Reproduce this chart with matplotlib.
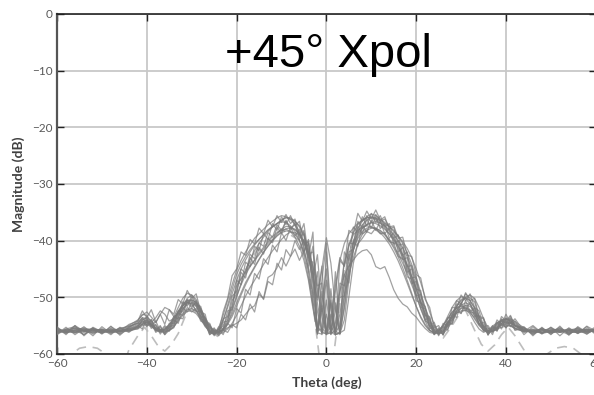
import numpy as np
import matplotlib
matplotlib.use('Agg')
import matplotlib.pyplot as plt

# Angle grid shared by the measured cuts (deg)
theta = [-60, -58, -56, -54, -52, -50, -48, -46, -44, -42,
         -41, -40, -39, -38, -37, -36, -35, -34, -33, -32, -31, -30, -29, -28, -27, -26, -25, -24, -23, -22, -21,
         -20, -19, -18, -17, -16, -15, -14, -13, -12, -11, -10, -9, -8, -7, -6, -5, -4, -3, -2, -1, 0,
         1, 2, 3, 4, 5, 6, 7, 8, 9, 10, 11, 12, 13, 14, 15, 16, 17, 18, 19, 20, 21,
         22, 23, 24, 25, 26, 27, 28, 29, 30, 31, 32, 33, 34, 35, 36, 37, 38, 39, 40, 41, 42,
         44, 46, 48, 50, 52, 54, 56, 58, 60]

cut_1 = [-56.0, -55.8, -55.5, -55.9, -56.2, -56.0, -55.8, -56.1, -55.6, -55.0,
         -54.4, -54.1, -54.6, -55.3, -55.8, -55.9, -55.4, -54.5, -53.2, -52.0, -51.2, -51.0, -51.6, -52.8, -54.3, -55.5, -56.0, -55.8, -55.0, -53.5, -51.5,
         -48.0, -46.8, -45.5, -44.5, -43.5, -42.5, -41.5, -40.5, -39.8, -38.8, -38.0, -37.5, -37.6, -38.0, -38.8, -40.5, -43.0, -47.0, -52.5, -56.2, -50.5,
         -56.3, -56.0, -53.0, -48.0, -43.5, -40.5, -38.8, -37.8, -37.2, -36.9, -37.0, -37.4, -38.0, -38.8, -39.8, -41.0, -42.5, -44.3, -46.3, -48.5, -50.8,
         -52.8, -54.5, -55.6, -56.2, -56.0, -55.2, -54.0, -52.8, -51.9, -51.4, -51.6, -52.6, -54.0, -55.2, -55.9, -55.8, -55.3, -54.9, -54.7, -54.6, -55.0,
         -55.9, -56.2, -56.0, -55.7, -55.9, -56.1, -55.8, -56.0, -55.7]
cut_2 = [-56.4, -55.6, -55.2, -56.0, -55.7, -56.3, -56.0, -55.5, -55.2, -54.6,
         -53.6, -53.8, -54.9, -55.6, -56.1, -55.6, -54.8, -53.5, -51.8, -50.2, -49.3, -49.6, -50.8, -52.5, -54.6, -56.2, -56.6, -55.4, -53.2, -50.5, -47.8,
         -45.2, -43.5, -42.0, -40.8, -39.6, -38.8, -38.0, -37.2, -36.6, -36.0, -35.6, -35.8, -36.3, -37.1, -38.5, -41.2, -45.5, -50.8, -56.4, -52.0, -56.5,
         -55.0, -56.5, -56.4, -51.5, -45.0, -40.2, -37.8, -36.6, -35.8, -35.3, -35.6, -36.2, -36.8, -37.5, -38.2, -39.2, -40.5, -42.2, -44.2, -46.5, -49.2,
         -51.8, -54.0, -55.8, -56.5, -56.0, -54.8, -53.2, -51.6, -50.4, -50.0, -50.6, -52.0, -53.8, -55.4, -56.2, -55.9, -55.0, -54.2, -53.9, -54.2, -54.8,
         -56.2, -55.8, -56.4, -56.0, -55.6, -56.3, -56.0, -55.6, -56.2]
cut_3 = [-55.7, -56.2, -56.0, -55.6, -55.9, -55.7, -56.2, -55.9, -55.8, -55.4,
         -54.8, -54.5, -55.0, -55.6, -56.0, -56.2, -55.9, -55.2, -54.0, -52.9, -52.2, -52.0, -52.4, -53.4, -54.8, -55.9, -56.4, -56.5, -56.2, -55.6, -54.6,
         -53.2, -51.5, -49.8, -48.3, -47.0, -45.6, -44.2, -43.0, -41.8, -40.8, -39.8, -39.0, -38.5, -38.6, -39.0, -40.2, -42.0, -44.5, -48.5, -53.5, -56.5,
         -56.2, -56.6, -56.3, -55.8, -50.0, -44.0, -40.5, -38.9, -38.2, -37.8, -37.9, -38.2, -38.9, -39.8, -41.0, -42.4, -44.0, -45.8, -47.8, -49.8, -52.0,
         -53.8, -55.2, -56.2, -56.4, -55.6, -54.6, -53.4, -52.5, -52.0, -51.9, -52.2, -53.2, -54.5, -55.6, -56.1, -56.0, -55.6, -55.3, -55.1, -55.0, -55.4,
         -56.0, -55.7, -56.3, -55.9, -56.2, -55.8, -56.3, -55.9, -56.1]
cut_4 = [-56.1, -55.9, -56.3, -55.8, -56.0, -55.6, -55.9, -56.2, -55.4, -54.2,
         -53.0, -53.2, -54.5, -53.6, -52.4, -53.0, -54.2, -53.8, -52.6, -51.5, -50.8, -51.2, -52.4, -53.8, -55.2, -56.0, -56.3, -56.0, -55.8, -55.4, -55.0,
         -54.6, -54.0, -53.0, -52.0, -51.5, -49.5, -50.2, -46.5, -46.0, -44.8, -43.0, -44.5, -42.8, -41.5, -43.5, -41.8, -44.8, -49.5, -55.0, -56.3, -56.4,
         -54.0, -48.0, -43.0, -44.5, -41.0, -39.0, -38.2, -37.6, -37.4, -37.6, -38.0, -38.6, -39.5, -40.6, -42.0, -43.6, -45.5, -47.5, -49.6, -51.6, -53.4,
         -54.8, -55.8, -56.3, -55.9, -55.0, -53.8, -52.6, -51.8, -51.5, -51.8, -52.6, -53.8, -55.0, -55.8, -56.0, -55.4, -54.6, -54.0, -53.8, -54.2, -55.0,
         -55.6, -56.1, -55.9, -56.3, -55.8, -55.9, -56.2, -55.6, -55.9]
cut_5 = [-55.9, -56.2, -55.7, -56.0, -56.3, -55.8, -56.0, -55.7, -55.9, -55.3,
         -54.8, -54.4, -54.9, -55.5, -55.9, -55.6, -54.9, -53.9, -52.6, -51.4, -50.6, -50.4, -51.0, -52.2, -53.8, -55.2, -56.0, -56.3, -55.6, -54.0, -52.0,
         -49.8, -47.8, -46.0, -44.6, -43.4, -42.2, -41.2, -40.2, -39.3, -38.6, -38.2, -38.0, -38.4, -39.4, -41.0, -43.5, -47.0, -52.0, -56.0, -55.5, -56.3,
         -56.0, -52.5, -49.0, -46.0, -44.5, -43.4, -42.4, -41.8, -41.6, -42.5, -44.6, -45.0, -44.6, -46.5, -48.7, -50.2, -51.2, -51.7, -52.8, -53.5, -54.6,
         -55.5, -56.2, -56.4, -55.8, -55.0, -53.8, -52.7, -51.9, -51.6, -52.0, -53.0, -54.4, -55.6, -56.2, -55.8, -55.1, -54.5, -54.2, -54.4, -54.9, -55.5,
         -56.0, -55.6, -56.2, -55.8, -56.1, -55.7, -56.0, -56.3, -55.8]
cut_6 = [-55.6, -56.0, -55.8, -55.4, -55.9, -56.2, -55.6, -55.9, -55.7, -55.2,
         -54.0, -53.5, -54.2, -55.0, -55.7, -56.0, -55.7, -54.8, -53.5, -52.2, -51.0, -50.5, -50.9, -52.0, -53.6, -55.0, -55.9, -56.3, -55.9, -54.6, -52.5,
         -50.0, -47.5, -45.2, -43.4, -41.8, -40.5, -39.4, -38.4, -37.6, -37.0, -36.4, -36.0, -36.2, -36.6, -37.4, -38.8, -41.5, -46.0, -50.5, -45.0, -39.5,
         -44.0, -52.0, -56.4, -54.0, -47.0, -41.6, -38.6, -37.2, -36.4, -36.0, -36.1, -36.6, -37.4, -38.4, -39.6, -41.0, -42.6, -44.4, -46.4, -48.6, -51.0,
         -53.2, -55.0, -56.0, -56.3, -55.8, -54.6, -53.0, -51.6, -50.6, -50.2, -50.6, -51.8, -53.4, -55.0, -56.0, -56.1, -55.5, -54.8, -54.4, -54.5, -55.1,
         -55.8, -56.0, -55.6, -56.2, -56.0, -55.7, -56.1, -55.8, -56.2]
cut_7 = [-56.2, -55.7, -56.1, -55.8, -55.5, -56.0, -56.3, -55.8, -55.5, -54.8,
         -53.8, -54.2, -55.1, -55.8, -56.2, -55.8, -55.0, -53.8, -52.4, -51.2, -50.5, -50.6, -51.6, -53.2, -55.0, -56.2, -56.4, -55.6, -54.0, -51.8, -49.4,
         -47.0, -45.0, -43.4, -42.0, -40.8, -39.8, -38.9, -38.1, -37.5, -37.0, -36.7, -36.8, -37.4, -38.4, -40.0, -42.5, -46.5, -51.5, -56.3, -56.5, -53.0,
         -56.4, -54.5, -49.0, -44.0, -40.8, -38.6, -37.2, -36.4, -36.0, -35.8, -36.0, -36.4, -37.0, -37.6, -38.4, -39.2, -40.2, -41.4, -43.0, -45.0, -47.4,
         -50.0, -52.6, -54.8, -56.2, -56.4, -55.6, -54.2, -52.5, -51.0, -50.0, -49.6, -50.2, -51.8, -53.8, -55.4, -56.0, -55.5, -54.6, -53.9, -53.8, -54.3,
         -55.4, -56.2, -55.9, -55.5, -56.1, -55.8, -55.5, -56.0, -55.6]
cut_8 = [-55.8, -56.1, -55.9, -56.2, -55.6, -55.9, -56.1, -56.0, -55.8, -55.6,
         -55.0, -54.8, -55.2, -55.7, -56.0, -56.1, -55.8, -55.2, -54.2, -53.2, -52.5, -52.4, -52.9, -53.9, -55.0, -55.8, -56.2, -56.1, -55.6, -54.5, -53.0,
         -51.0, -49.2, -47.4, -46.0, -44.6, -43.3, -42.0, -40.9, -40.0, -39.2, -38.6, -38.3, -38.4, -38.9, -40.0, -42.0, -40.5, -45.0, -56.2, -49.0, -56.4,
         -50.5, -56.3, -55.0, -49.5, -44.8, -41.6, -39.6, -38.4, -37.8, -37.6, -37.8, -38.3, -39.0, -40.0, -41.3, -42.9, -44.8, -47.0, -49.3, -51.6, -53.6,
         -55.0, -55.9, -56.2, -55.9, -55.3, -54.5, -53.6, -52.8, -52.4, -52.3, -52.7, -53.6, -54.8, -55.7, -56.1, -55.9, -55.4, -55.0, -54.9, -55.1, -55.5,
         -56.1, -55.9, -55.6, -56.0, -56.2, -55.9, -55.6, -56.1, -55.9]
cut_9 = [-56.3, -55.9, -55.4, -55.7, -56.1, -55.8, -56.1, -55.6, -55.0, -54.0,
         -53.2, -52.6, -53.5, -54.5, -53.0, -51.8, -52.2, -53.4, -53.0, -51.6, -50.2, -49.6, -50.4, -52.0, -54.0, -55.6, -56.4, -56.0, -54.2, -51.4, -48.6,
         -46.0, -44.2, -42.8, -41.6, -40.6, -39.8, -39.0, -38.2, -37.6, -37.0, -36.4, -35.9, -36.0, -36.6, -37.6, -39.2, -42.0, -47.5, -56.0, -51.0, -45.0,
         -56.5, -49.0, -43.5, -40.5, -38.8, -37.8, -37.0, -36.4, -36.0, -35.9, -36.3, -36.9, -37.8, -38.8, -40.0, -41.4, -43.0, -44.8, -47.0, -49.5, -52.0,
         -54.2, -55.8, -56.4, -56.0, -55.0, -53.4, -51.8, -50.6, -49.9, -50.2, -51.2, -52.8, -54.6, -55.9, -56.2, -55.6, -54.8, -54.1, -53.8, -54.0, -54.6,
         -55.7, -56.0, -56.3, -55.8, -55.6, -56.0, -56.2, -55.7, -56.0]
cut_10 = [-55.9, -56.0, -56.2, -55.9, -55.7, -56.1, -55.7, -56.0, -56.0, -55.5,
          -54.6, -54.3, -54.8, -55.4, -55.8, -55.7, -55.2, -54.2, -52.8, -51.6, -50.9, -50.8, -51.3, -52.5, -54.0, -55.3, -56.0, -56.2, -55.7, -54.8, -53.4,
          -51.6, -49.6, -47.8, -46.2, -44.8, -43.4, -42.1, -41.0, -40.0, -39.1, -38.4, -37.9, -37.8, -38.1, -38.8, -40.2, -42.5, -46.0, -51.0, -56.0, -56.5,
          -56.3, -56.0, -56.4, -52.0, -46.0, -41.8, -39.2, -37.9, -37.2, -36.8, -36.7, -36.9, -37.4, -38.1, -39.0, -40.0, -41.3, -42.9, -44.8, -47.0, -49.6,
          -52.0, -54.2, -55.8, -56.4, -56.1, -55.0, -53.6, -52.3, -51.4, -51.0, -51.3, -52.4, -53.9, -55.3, -56.0, -55.9, -55.2, -54.6, -54.3, -54.4, -55.0,
          -55.8, -56.0, -55.7, -56.1, -55.8, -56.2, -55.9, -55.7, -56.1]
cut_11 = [-55.2, -56.6, -55.0, -56.8, -55.4, -56.5, -55.1, -56.7, -55.3, -54.5,
          -53.6, -54.8, -53.9, -55.9, -55.0, -56.6, -55.2, -55.0, -52.8, -53.2, -50.8, -51.9, -50.6, -53.4, -53.6, -56.2, -55.4, -56.7, -54.4, -54.2, -50.6,
          -49.4, -45.6, -46.6, -43.0, -44.2, -41.2, -42.4, -39.6, -40.4, -37.6, -38.8, -36.4, -38.2, -36.8, -39.8, -38.2, -44.5, -41.0, -50.0, -44.5, -56.6,
          -48.5, -56.7, -50.0, -49.8, -42.0, -41.6, -37.5, -38.8, -36.2, -37.8, -35.8, -37.9, -37.0, -39.6, -38.6, -42.0, -41.2, -45.6, -45.0, -49.8, -49.5,
          -54.0, -53.6, -56.6, -55.4, -56.7, -54.2, -54.8, -51.8, -52.9, -50.6, -52.5, -51.9, -54.8, -54.4, -56.7, -55.0, -56.0, -54.0, -55.4, -53.8, -55.8,
          -55.2, -56.8, -55.3, -56.6, -55.1, -56.7, -55.3, -56.5, -55.4]
cut_12 = [-56.5, -55.3, -56.6, -55.5, -56.8, -55.2, -56.4, -55.4, -56.2, -55.0,
          -55.6, -53.8, -55.5, -54.8, -56.5, -55.2, -56.0, -54.0, -54.6, -51.8, -52.6, -50.9, -52.5, -52.4, -55.0, -54.8, -56.8, -55.6, -56.6, -54.6, -55.4,
          -52.0, -52.8, -48.6, -49.6, -45.8, -46.8, -43.2, -44.2, -40.8, -42.0, -38.6, -40.0, -37.6, -39.2, -38.0, -41.8, -39.8, -46.5, -42.5, -52.5, -47.0,
          -56.5, -51.0, -56.6, -46.0, -47.5, -40.2, -41.0, -37.2, -38.6, -36.4, -38.2, -36.6, -38.8, -37.8, -40.6, -40.0, -43.4, -43.0, -47.6, -47.2, -51.8,
          -52.0, -55.6, -55.0, -56.8, -55.2, -55.8, -53.0, -53.6, -51.0, -52.4, -50.8, -53.4, -53.2, -56.0, -55.4, -56.6, -54.4, -55.6, -53.6, -55.2, -54.2,
          -56.6, -55.2, -56.5, -55.3, -56.8, -55.4, -56.4, -55.2, -56.6]
cut_13 = [-55.4, -56.2, -55.0, -56.0, -55.6, -56.4, -55.2, -56.1, -54.8, -54.2,
          -52.4, -53.6, -52.2, -54.4, -53.0, -54.8, -52.2, -53.0, -50.4, -51.2, -48.8, -50.2, -49.4, -52.6, -53.0, -56.4, -55.6, -56.2, -52.6, -50.2, -46.2,
          -45.0, -42.0, -42.6, -39.8, -40.6, -37.8, -38.8, -36.4, -37.6, -35.6, -36.8, -35.4, -37.0, -36.2, -39.0, -37.0, -43.0, -38.5, -56.4, -47.0, -40.5,
          -56.6, -45.5, -56.4, -42.0, -43.5, -37.6, -38.6, -35.8, -37.4, -35.2, -36.8, -35.6, -37.6, -37.0, -39.6, -39.0, -42.6, -42.0, -46.6, -46.4, -51.0,
          -51.6, -55.2, -54.4, -56.6, -54.6, -55.0, -51.8, -51.9, -49.6, -50.6, -49.4, -51.8, -52.4, -55.2, -55.0, -56.2, -54.0, -54.8, -53.0, -54.6, -53.8,
          -56.0, -55.0, -56.3, -55.3, -56.2, -55.5, -56.4, -55.1, -56.0]
cut_14 = [-56.6, -55.6, -56.3, -55.2, -56.5, -55.6, -56.6, -55.3, -56.0, -55.2,
          -54.2, -55.2, -54.0, -56.0, -55.2, -56.4, -54.6, -54.6, -52.4, -52.6, -50.4, -51.6, -51.0, -53.8, -54.2, -56.6, -55.8, -56.4, -53.8, -53.4, -49.8,
          -49.0, -45.0, -45.8, -42.4, -43.2, -40.4, -41.0, -38.6, -39.4, -37.2, -38.2, -36.6, -37.8, -37.2, -39.4, -38.8, -43.6, -43.8, -56.6, -51.5, -56.6,
          -53.0, -56.6, -47.5, -48.0, -40.4, -40.6, -36.6, -37.8, -35.6, -36.8, -35.4, -36.6, -36.2, -37.6, -37.4, -39.6, -39.4, -42.6, -42.8, -46.0, -46.6,
          -50.4, -51.8, -55.4, -55.0, -56.6, -54.4, -54.0, -51.2, -51.4, -49.2, -50.6, -50.2, -53.4, -53.6, -56.4, -55.2, -55.8, -53.8, -54.8, -53.4, -55.2,
          -55.4, -56.6, -55.6, -56.2, -55.3, -56.5, -55.6, -56.2, -55.2]
cut_15 = [-55.8, -56.4, -55.4, -56.6, -55.6, -56.2, -55.5, -56.5, -55.6, -55.2,
          -54.0, -55.0, -54.6, -56.2, -55.6, -56.6, -55.8, -55.4, -53.6, -53.8, -51.8, -52.6, -52.0, -54.2, -54.6, -56.6, -56.0, -56.8, -55.8, -56.2, -54.8,
          -55.4, -53.0, -54.0, -51.2, -52.6, -49.0, -50.4, -47.2, -47.8, -44.0, -45.2, -41.6, -42.8, -40.0, -41.6, -39.8, -42.4, -42.0, -48.0, -47.5, -56.5,
          -51.0, -56.6, -56.2, -50.0, -46.0, -43.0, -40.6, -39.6, -38.4, -38.8, -37.8, -38.8, -38.6, -40.2, -40.4, -42.8, -43.2, -46.4, -46.8, -50.6, -51.0,
          -54.2, -54.6, -56.6, -56.0, -56.4, -55.0, -54.6, -52.6, -52.8, -51.4, -52.6, -52.8, -54.8, -55.2, -56.6, -55.6, -55.9, -54.6, -55.4, -54.4, -55.8,
          -55.6, -56.4, -55.4, -56.5, -55.5, -56.4, -55.8, -56.5, -55.5]
cut_16 = [-55.5, -56.3, -55.8, -56.6, -55.3, -56.1, -55.9, -56.4, -55.1, -54.6,
          -54.8, -53.4, -55.0, -54.2, -56.0, -55.0, -55.6, -53.4, -53.8, -50.8, -51.6, -49.8, -51.4, -51.6, -54.4, -54.6, -56.6, -55.2, -55.6, -52.4, -52.2,
          -47.0, -47.8, -43.8, -44.6, -41.0, -41.8, -38.8, -39.8, -37.0, -38.2, -35.8, -37.2, -35.6, -37.4, -36.6, -40.8, -40.2, -50.0, -45.5, -56.6, -42.0,
          -52.0, -56.4, -43.5, -44.5, -38.2, -38.8, -35.2, -36.6, -34.8, -36.2, -34.6, -36.4, -35.8, -38.0, -37.6, -40.8, -40.6, -44.6, -44.4, -48.6, -48.8,
          -53.2, -53.4, -56.5, -55.6, -56.6, -53.6, -53.6, -50.6, -51.2, -49.4, -50.2, -50.8, -53.6, -53.8, -56.6, -55.4, -55.6, -53.4, -54.2, -53.2, -55.0,
          -55.3, -56.5, -55.6, -56.3, -55.9, -56.6, -55.2, -56.2, -55.6]

cuts = [cut_1, cut_2, cut_3, cut_4, cut_5, cut_6, cut_7, cut_8,
        cut_9, cut_10, cut_11, cut_12, cut_13, cut_14, cut_15, cut_16]

# Simulated (ideal) pattern, dashed
ideal_theta = [-60, -57, -55, -53, -51, -49, -47, -45, -44, -42,
               -40.5, -39, -37.5, -36, -34.5, -33, -31, -30, -28, -26,
               -24, -22, -20, -15, -10, -6, -4, -3, -2.2, -1.5,
               0,
               1.5, 2.2, 3, 4, 6, 10, 15, 20, 22, 24,
               26, 28, 30, 31, 33, 34.5, 36, 37.5, 39, 40.5,
               42, 44, 45, 47, 49, 51, 53, 55, 57, 60]
ideal_db = [-64, -60.2, -59.0, -58.7, -59.0, -60.1, -63.0, -61.5, -59.3, -56.8,
            -55.3, -56.8, -58.6, -59.5, -58.3, -56.4, -52.5, -52.0, -53.5, -56.0,
            -57.0, -54.0, -48.0, -41.0, -38.0, -40.0, -45.0, -51.0, -56.5, -61.0,
            -80.0,
            -61.0, -56.5, -51.0, -45.0, -40.0, -37.5, -40.5, -48.5, -53.0, -56.0,
            -57.2, -55.0, -52.5, -52.3, -55.8, -58.3, -59.5, -58.4, -56.6, -55.3,
            -56.8, -59.3, -61.5, -63.0, -60.1, -59.0, -58.7, -59.0, -60.2, -64]

x_ticks = [-60, -40, -20, 0, 20, 40, 60]
y_ticks = [-60, -50, -40, -30, -20, -10, 0]

plt.rcParams['font.family'] = ['Lato', 'DejaVu Sans']

fig = plt.figure(figsize=(5.94, 3.95), dpi=100)
ax = fig.add_axes([0.096, 0.104, 0.907, 0.861])

ax.plot(ideal_theta, ideal_db, color='#bdbdbd', lw=1.2, dashes=(6, 4), zorder=2)
for c in cuts:
    ax.plot(theta, c, color='#7a7a7a', lw=0.9, alpha=0.7, zorder=3)

ax.set_xlim(-60, 60)
ax.set_ylim(-60, 0)
ax.set_xticks(x_ticks)
ax.set_yticks(y_ticks)
ax.grid(True, color='#c8c8c8', lw=1.3, zorder=0)
ax.set_axisbelow(True)

ax.tick_params(direction='in', length=5, width=1, color='#222222',
               labelcolor='#595959', labelsize=8.5, top=True, right=True, pad=3)
for side in ['top', 'bottom']:
    ax.spines[side].set_color('#222222')
    ax.spines[side].set_linewidth(1.2)
ax.spines['left'].set_color('#555555')
ax.spines['left'].set_linewidth(1.6)

ax.set_xlabel('Theta (deg)', fontsize=10, fontweight='bold', color='#404040', labelpad=5)
ax.set_ylabel('Magnitude (dB)', fontsize=10, fontweight='bold', color='#404040', labelpad=5)

fig.text(328.5 / 594, 1 - 67 / 395, '+45° Xpol', fontsize=34, family='Liberation Sans',
         ha='center', va='baseline', color='black')

fig.savefig('out.png', dpi=100)
